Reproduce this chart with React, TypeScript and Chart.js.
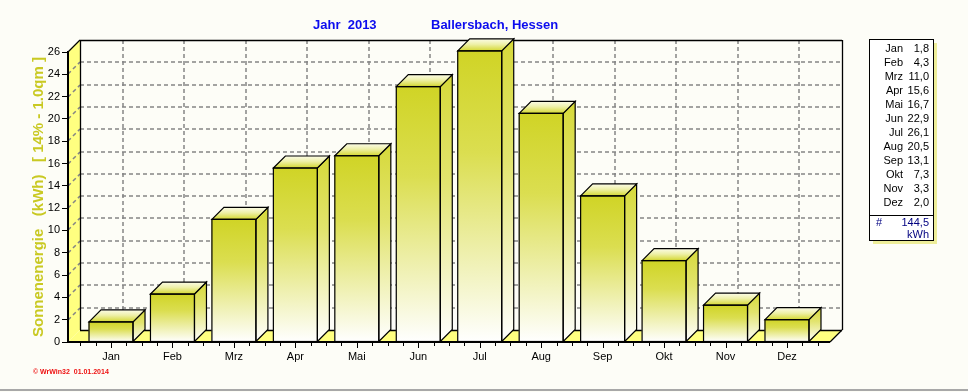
import React, { useEffect, useRef } from 'react';
import { Chart, registerables } from 'chart.js';

Chart.register(...registerables);

// ---- data ----
const months = ['Jan', 'Feb', 'Mrz', 'Apr', 'Mai', 'Jun', 'Jul', 'Aug', 'Sep', 'Okt', 'Nov', 'Dez'];
const energy = [1.8, 4.3, 11.0, 15.6, 16.7, 22.9, 26.1, 20.5, 13.1, 7.3, 3.3, 2.0];
const yTicks = [0, 2, 4, 6, 8, 10, 12, 14, 16, 18, 20, 22, 24, 26];
const total = 144.5;
const totalUnit = 'kWh';
const titleYear = 'Jahr  2013';
const titlePlace = 'Ballersbach, Hessen';
const yAxisTitle = 'Sonnenenergie   (kWh)   [ 14% - 1.0qm ]';
const footer = '\u00A9 WrWin32  01.01.2014';

const FONT = '"Liberation Sans", Arial, sans-serif';
const DX = 12;
const DY = 12;
const BG = '#fdfdf7';
const WALL = '#ffff80';

const fmt = (v: number) => v.toFixed(1).replace('.', ',');

const frontFill = (c: any) => {
  const chart = c.chart;
  if (c.type !== 'data' || !chart.chartArea || !c.parsed) return '#d4d830';
  const ys = chart.scales.y;
  const top = ys.getPixelForValue(c.parsed.y);
  const base = ys.getPixelForValue(0);
  const g = chart.ctx.createLinearGradient(0, top, 0, base);
  g.addColorStop(0, '#d0d426');
  g.addColorStop(0.35, '#dbde50');
  g.addColorStop(1, '#ffffff');
  return g;
};

const line = (ctx: CanvasRenderingContext2D, x1: number, y1: number, x2: number, y2: number) => {
  ctx.beginPath();
  ctx.moveTo(x1, y1);
  ctx.lineTo(x2, y2);
  ctx.stroke();
};

const poly = (ctx: CanvasRenderingContext2D, pts: number[][]) => {
  ctx.beginPath();
  ctx.moveTo(pts[0][0], pts[0][1]);
  for (let i = 1; i < pts.length; i++) ctx.lineTo(pts[i][0], pts[i][1]);
  ctx.closePath();
};

const scenePlugin = {
  id: 'scene3d',
  beforeDraw(chart: any) {
    const { ctx, width, height } = chart;
    ctx.save();
    ctx.fillStyle = BG;
    ctx.fillRect(0, 0, width, height);
    ctx.restore();
  },
  beforeDatasetsDraw(chart: any) {
    const { ctx, chartArea: a, scales } = chart;
    const xs = scales.x;
    const ys = scales.y;
    const L = a.left, R = a.right, T = a.top, B = a.bottom;
    ctx.save();
    // left wall and floor
    ctx.fillStyle = WALL;
    poly(ctx, [[L, T], [L + DX, T - DY], [L + DX, B - DY], [L, B]]);
    ctx.fill();
    poly(ctx, [[L, B], [L + DX, B - DY], [R + DX, B - DY], [R, B]]);
    ctx.fill();

    // dashed grid on back wall and left wall
    ctx.strokeStyle = '#858585';
    ctx.lineWidth = 1.5;
    ctx.setLineDash([4, 3]);
    yTicks.forEach((v) => {
      if (v === yTicks[0] || v === yTicks[yTicks.length - 1]) return;
      const py = Math.round(ys.getPixelForValue(v));
      line(ctx, L + DX, py - DY, R + DX, py - DY);
      line(ctx, L, py, L + DX, py - DY);
    });
    months.forEach((_, i) => {
      const px = Math.round(xs.getPixelForValue(i)) + DX;
      line(ctx, px, T - DY, px, B - DY);
    });
    ctx.setLineDash([]);

    // wall borders
    ctx.strokeStyle = '#000';
    ctx.lineWidth = 1.3;
    line(ctx, L + DX, T - DY + 0.5, R + DX, T - DY + 0.5);
    line(ctx, R + DX + 0.5, T - DY, R + DX + 0.5, B - DY);
    line(ctx, L + DX + 0.5, T - DY, L + DX + 0.5, B - DY);
    line(ctx, L, T, L + DX, T - DY);
    line(ctx, L + DX, B - DY + 0.5, R + DX, B - DY + 0.5);
    line(ctx, R, B, R + DX, B - DY);
    ctx.restore();
  },
  afterDatasetsDraw(chart: any) {
    const { ctx, chartArea: a, scales } = chart;
    const xs = scales.x;
    const L = a.left, R = a.right, T = a.top, B = a.bottom;
    ctx.save();
    const meta = chart.getDatasetMeta(0);
    meta.data.forEach((bar: any) => {
      const { x, y, base, width } = bar.getProps(['x', 'y', 'base', 'width'], true);
      const l = x - width / 2;
      const r = x + width / 2;
      // side face
      const gs = ctx.createLinearGradient(0, y - DY, 0, base);
      gs.addColorStop(0, '#d6d93a');
      gs.addColorStop(0.4, '#e2e46e');
      gs.addColorStop(1, '#ffffff');
      poly(ctx, [[r, y], [r + DX, y - DY], [r + DX, base - DY], [r, base]]);
      ctx.fillStyle = gs;
      ctx.fill();
      ctx.strokeStyle = '#000';
      ctx.lineWidth = 1.2;
      ctx.stroke();
      // top face
      const gt = ctx.createLinearGradient(0, y - DY, 0, y);
      gt.addColorStop(0, '#fcfce8');
      gt.addColorStop(0.45, '#eef0a8');
      gt.addColorStop(1, '#d4d830');
      poly(ctx, [[l, y], [l + DX, y - DY], [r + DX, y - DY], [r, y]]);
      ctx.fillStyle = gt;
      ctx.fill();
      ctx.stroke();
      // front outline
      ctx.strokeRect(l, y, width, base - y);
    });

    // front axis lines
    ctx.strokeStyle = '#000';
    ctx.lineWidth = 2;
    line(ctx, L, T - 1, L, B + 1);
    line(ctx, L - 1, B, R, B);

    // x minor ticks
    ctx.lineWidth = 1;
    months.forEach((_, i) => {
      [-0.5, -0.25, 0, 0.25, 0.5].forEach((o) => {
        const px = Math.round(xs.getPixelForValue(i + o)) + 0.5;
        line(ctx, px, B, px, B + (o === 0 ? 6 : 4));
      });
    });
    ctx.restore();
  },
  afterDraw(chart: any) {
    const { ctx, chartArea: a, width } = chart;
    ctx.save();
    // title
    ctx.font = `bold 13px ${FONT}`;
    ctx.fillStyle = '#0c0cee';
    ctx.textBaseline = 'middle';
    ctx.textAlign = 'left';
    ctx.fillText(titleYear, 313, 25);
    ctx.fillText(titlePlace, 431, 25);

    // y axis title
    ctx.save();
    ctx.translate(39, (a.top + a.bottom) / 2);
    ctx.rotate(-Math.PI / 2);
    ctx.font = `bold 15px ${FONT}`;
    ctx.fillStyle = '#c9c923';
    ctx.textAlign = 'center';
    ctx.textBaseline = 'middle';
    ctx.fillText(yAxisTitle, 0, 0);
    ctx.restore();

    // footer
    ctx.font = `bold 7px ${FONT}`;
    ctx.fillStyle = '#ee1111';
    ctx.textAlign = 'left';
    ctx.textBaseline = 'middle';
    ctx.fillText(footer, 33, 372);

    // value box
    const bx = 869, by = 39, bw = 64, bh = 201;
    ctx.fillStyle = '#eeee9a';
    ctx.fillRect(bx + 4, by + 4, bw, bh);
    ctx.fillStyle = '#ffffff';
    ctx.fillRect(bx, by, bw, bh);
    ctx.strokeStyle = '#000';
    ctx.lineWidth = 1;
    ctx.strokeRect(bx + 0.5, by + 0.5, bw, bh);
    line(ctx, bx, 215.5, bx + bw, 215.5);

    ctx.font = `11px ${FONT}`;
    ctx.fillStyle = '#000';
    ctx.textBaseline = 'middle';
    months.forEach((m, i) => {
      const ty = 48.5 + i * 14;
      ctx.textAlign = 'right';
      ctx.fillText(m, 903, ty);
      ctx.fillText(fmt(energy[i]), 929, ty);
    });
    ctx.fillStyle = '#000080';
    ctx.textAlign = 'left';
    ctx.fillText('#', 876, 223);
    ctx.textAlign = 'right';
    ctx.fillText(fmt(total), 929, 223);
    ctx.fillText(totalUnit, 929, 235);

    // bottom frame line
    ctx.strokeStyle = '#a8a8a8';
    ctx.lineWidth = 2;
    line(ctx, 0, 390, width, 390);
    ctx.restore();
  },
};

export default function App() {
  const ref = useRef<HTMLCanvasElement>(null);
  useEffect(() => {
    document.body.style.margin = '0';
    const chart = new Chart(ref.current as HTMLCanvasElement, {
      type: 'bar',
      data: {
        datasets: [
          {
            data: energy.map((v, i) => ({ x: i, y: v })),
            backgroundColor: frontFill,
            borderColor: '#000000',
            borderWidth: 0,
            barThickness: 44,
            clip: false,
          } as any,
        ],
      },
      options: {
        responsive: false,
        animation: false,
        events: [],
        layout: { padding: { top: 52, right: 138, left: 0, bottom: 0 } },
        plugins: {
          legend: { display: false },
          tooltip: { enabled: false },
          title: { display: false },
        },
        scales: {
          x: {
            type: 'linear',
            min: -0.7,
            max: 11.7,
            offset: false,
            afterBuildTicks: (s: any) => {
              s.ticks = months.map((_, i) => ({ value: i }));
            },
            afterFit: (s: any) => {
              s.height = 50;
            },
            grid: { display: false, drawTicks: false },
            border: { display: false },
            ticks: {
              autoSkip: false,
              maxRotation: 0,
              padding: 8,
              color: '#000',
              font: { family: FONT, size: 11 },
              callback: (v: any) => months[v] ?? '',
            },
          },
          y: {
            min: 0,
            max: 26,
            afterBuildTicks: (s: any) => {
              s.ticks = yTicks.map((v) => ({ value: v }));
            },
            afterFit: (s: any) => {
              s.width = 68;
            },
            grid: { display: true, drawOnChartArea: false, drawTicks: true, tickLength: 6, color: '#000' },
            border: { display: false },
            ticks: {
              padding: 2,
              color: '#000',
              font: { family: FONT, size: 11 },
            },
          },
        },
      } as any,
      plugins: [scenePlugin],
    });
    return () => chart.destroy();
  }, []);
  return (
    <div style={{ width: 968, height: 392 }}>
      <canvas ref={ref} width={968} height={392} style={{ display: 'block' }} />
    </div>
  );
}
